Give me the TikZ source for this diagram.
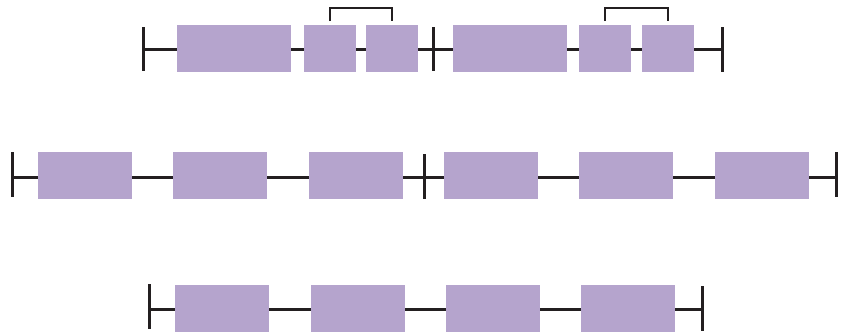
\documentclass[tikz,border=0pt]{standalone}
\usetikzlibrary{positioning}
\definecolor{exonc}{HTML}{B5A4CD}
\definecolor{inkc}{HTML}{231F20}
\begin{document}
\begin{tikzpicture}[x=1pt,y=-1pt,
  exon/.style={fill=exonc,draw=none,inner sep=0pt,outer sep=0pt,anchor=north west,minimum height=47pt},
  wide/.style={exon,minimum width=114pt},
  small/.style={exon,minimum width=52pt},
  mid/.style={exon,minimum width=94pt},
  intron/.style={draw=inkc,line width=3pt},
  tick/.style={draw=inkc,line width=3pt},
  bracketline/.style={draw=inkc,line width=2.6pt}]
\useasboundingbox (0,0) rectangle (847,333);
% ---------- row 1
\coordinate (r1l) at (143,49);
\coordinate (r1m) at (433.5,49);
\coordinate (r1r) at (722,49);
\draw[intron] (r1l) -- (r1r);
\node[wide]  (a1) at (177,25) {};
\node[small] (a2) at (304,25) {};
\node[small] (a3) at (366,25) {};
\node[wide]  (a4) at (453,25) {};
\node[small] (a5) at (579,25) {};
\node[small] (a6) at (642,25) {};
\draw[tick] ([yshift=22pt]r1l) -- ([yshift=-22pt]r1l);
\draw[tick] ([yshift=22pt]r1m) -- ([yshift=-22pt]r1m);
\draw[tick] ([yshift=22pt]r1r) -- ([yshift=-23pt]r1r);
\draw[bracketline] ([yshift=4pt]a2.north) -- ++(0,-13) -| ([yshift=4pt]a3.north);
\draw[bracketline] ([yshift=4pt]a5.north) -- ++(0,-13) -| ([yshift=4pt]a6.north);
% ---------- row 2
\coordinate (r2l) at (12,177);
\coordinate (r2m) at (424,177);
\coordinate (r2r) at (836,177);
\draw[intron] (r2l) -- (r2r);
\node[mid] (b1) at (38,152) {};
\node[mid] (b2) at (173,152) {};
\node[mid] (b3) at (309,152) {};
\node[mid] (b4) at (444,152) {};
\node[mid] (b5) at (579,152) {};
\node[mid] (b6) at (715,152) {};
\draw[tick] ([yshift=25pt]r2l) -- ([yshift=-20pt]r2l);
\draw[tick] ([yshift=23pt]r2m) -- ([yshift=-22pt]r2m);
\draw[tick] ([yshift=25pt]r2r) -- ([yshift=-20pt]r2r);
% ---------- row 3
\coordinate (r3l) at (149,309);
\coordinate (r3r) at (702,309);
\draw[intron] (r3l) -- (r3r);
\node[mid] (c1) at (175,285) {};
\node[mid] (c2) at (311,285) {};
\node[mid] (c3) at (446,285) {};
\node[mid] (c4) at (581,285) {};
\draw[tick] ([yshift=25pt]r3l) -- ([yshift=-20pt]r3l);
\draw[tick] ([yshift=23pt]r3r) -- ([yshift=-22pt]r3r);
\end{tikzpicture}
\end{document}
